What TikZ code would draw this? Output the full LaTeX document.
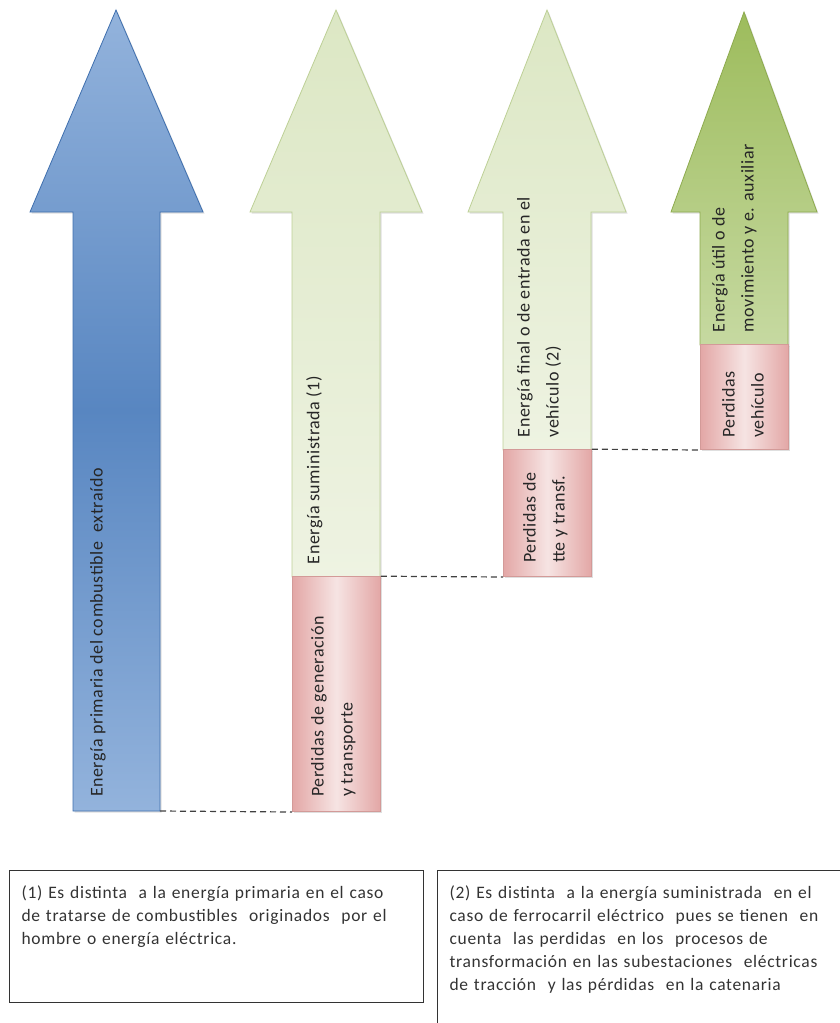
\documentclass[tikz,border=0pt]{standalone}
\usepackage{fontspec}
\setmainfont{Carlito}
\newfontfamily\labelfont[LetterSpace=3]{Carlito}
\newfontfamily\notefont[LetterSpace=4,WordSpace=1.3]{Carlito}
\usetikzlibrary{positioning,shadows}

\definecolor{blueedge}{HTML}{3F6FAE}
\definecolor{bluelight}{HTML}{93B3DC}
\definecolor{bluedark}{HTML}{5886C1}
\definecolor{paleedge}{HTML}{BDD096}
\definecolor{paletop}{HTML}{DCE7C4}
\definecolor{palebot}{HTML}{EEF3E2}
\definecolor{greenedge}{HTML}{8DAA4E}
\definecolor{greentop}{HTML}{9DBC5C}
\definecolor{greenbot}{HTML}{C6D9A1}
\definecolor{lossedge}{HTML}{D39A98}
\definecolor{losslight}{HTML}{F6E4E3}
\definecolor{lossdark}{HTML}{E3A7A6}
\definecolor{gapgray}{HTML}{404040}

\tikzset{
  arrowshadow/.style={drop shadow={opacity=0.25, shadow xshift=1.5pt, shadow yshift=-1.5pt}},
  bluearrow/.style={draw=blueedge, line width=0.8pt, top color=bluelight, bottom color=bluelight, middle color=bluedark, arrowshadow},
  palearrow/.style={draw=paleedge, line width=0.8pt, top color=paletop, bottom color=palebot, arrowshadow},
  greenarrow/.style={draw=greenedge, line width=0.8pt, top color=greentop, bottom color=greenbot, arrowshadow},
  loss/.style={draw=lossedge, line width=0.8pt, left color=lossdark, right color=lossdark, middle color=losslight,
    minimum width=88pt, inner sep=0pt, arrowshadow},
  vlabel/.style={rotate=90, anchor=north west, align=left, inner sep=0pt, text=black!85,
    font=\labelfont\fontsize{18}{29}\selectfont},
  gap/.style={draw=gapgray, line width=1.2pt, dash pattern=on 6pt off 4pt},
  note/.style={draw=black!80, line width=1.1pt, anchor=north west, align=left, inner xsep=12pt, inner ysep=14pt,
    text=black!80, text height=14pt, font=\notefont\fontsize{17.5}{23}\selectfont}
}

\begin{document}
\begin{tikzpicture}[x=1pt,y=-1pt]
  \useasboundingbox (0,0) rectangle (840,1023);
  \clip (0,0) rectangle (840,1023);

  % Energy arrows
  \draw[bluearrow] (73,811) -- (73,212) -- (30,212) -- (116,10) -- (203,212) -- (160,212) -- (160,811) coordinate (prim) -- cycle;
  \draw[palearrow] (292,577) -- (292,212) -- (250,212) -- (336,10) -- (422,212) -- (380,212) -- (380,577) -- cycle;
  \draw[palearrow] (503,450) -- (503,212) -- (468,212) -- (547,10) -- (626,212) -- (591,212) -- (591,450) -- cycle;
  \draw[greenarrow] (700,345) -- (700,212) -- (671,212) -- (744,12) -- (817,212) -- (788,212) -- (788,345) -- cycle;

  % Loss boxes
  \node[loss, minimum height=235pt, anchor=south west] (loss1) at (292,812) {};
  \node[loss, minimum height=127pt, anchor=south west] (loss2) at (503,577) {};
  \node[loss, minimum height=105pt, anchor=south west] (loss3) at (700,450) {};

  \draw[gap] (prim) -- (loss1.south west);
  \draw[gap] (loss1.north east) -- (loss2.south west);
  \draw[gap] (loss2.north east) -- (loss3.south west);

  % Labels
  \node[vlabel] (tprim) at (90,797) {Energía primaria del combustible\ \ extraído};
  \node[vlabel] (tsum) at ([shift={(14,-12)}]loss1.north west) {Energía suministrada (1)};
  \node[vlabel] (tfin) at ([shift={(14,-12)}]loss2.north west) {Energía final o de entrada en el\\vehículo (2)};
  \node[vlabel] (tutil) at ([shift={(12,-12)}]loss3.north west) {Energía útil o de\\movimiento y e. auxiliar};
  \node[vlabel] (tloss1) at ([shift={(19,-15)}]loss1.south west) {Perdidas de generación\\y transporte};
  \node[vlabel] (tloss2) at ([shift={(20,-14)}]loss2.south west) {Perdidas de\\tte y transf.};
  \node[vlabel] (tloss3) at ([shift={(22,-12)}]loss3.south west) {Perdidas\\vehículo};

  % Notes
  \node[note, text width=390pt, text depth=90pt] (note1) at (9,870)
    {(1) Es distinta\ \ a la energía primaria en el caso\\de tratarse de combustibles\ \ originados\ \ por el\\hombre o energía eléctrica.};
  \node[note, text width=420pt, text depth=150pt] (note2) at (437,870)
    {(2) Es distinta\ \ a la energía suministrada\ \ en el\\caso de ferrocarril eléctrico\ \ pues se tienen\ \ en\\cuenta\ \ las perdidas\ \ en los\ \ procesos de\\transformación en las subestaciones\ \ eléctricas\\de tracción\ \ y las pérdidas\ \ en la catenaria};
\end{tikzpicture}
\end{document}
